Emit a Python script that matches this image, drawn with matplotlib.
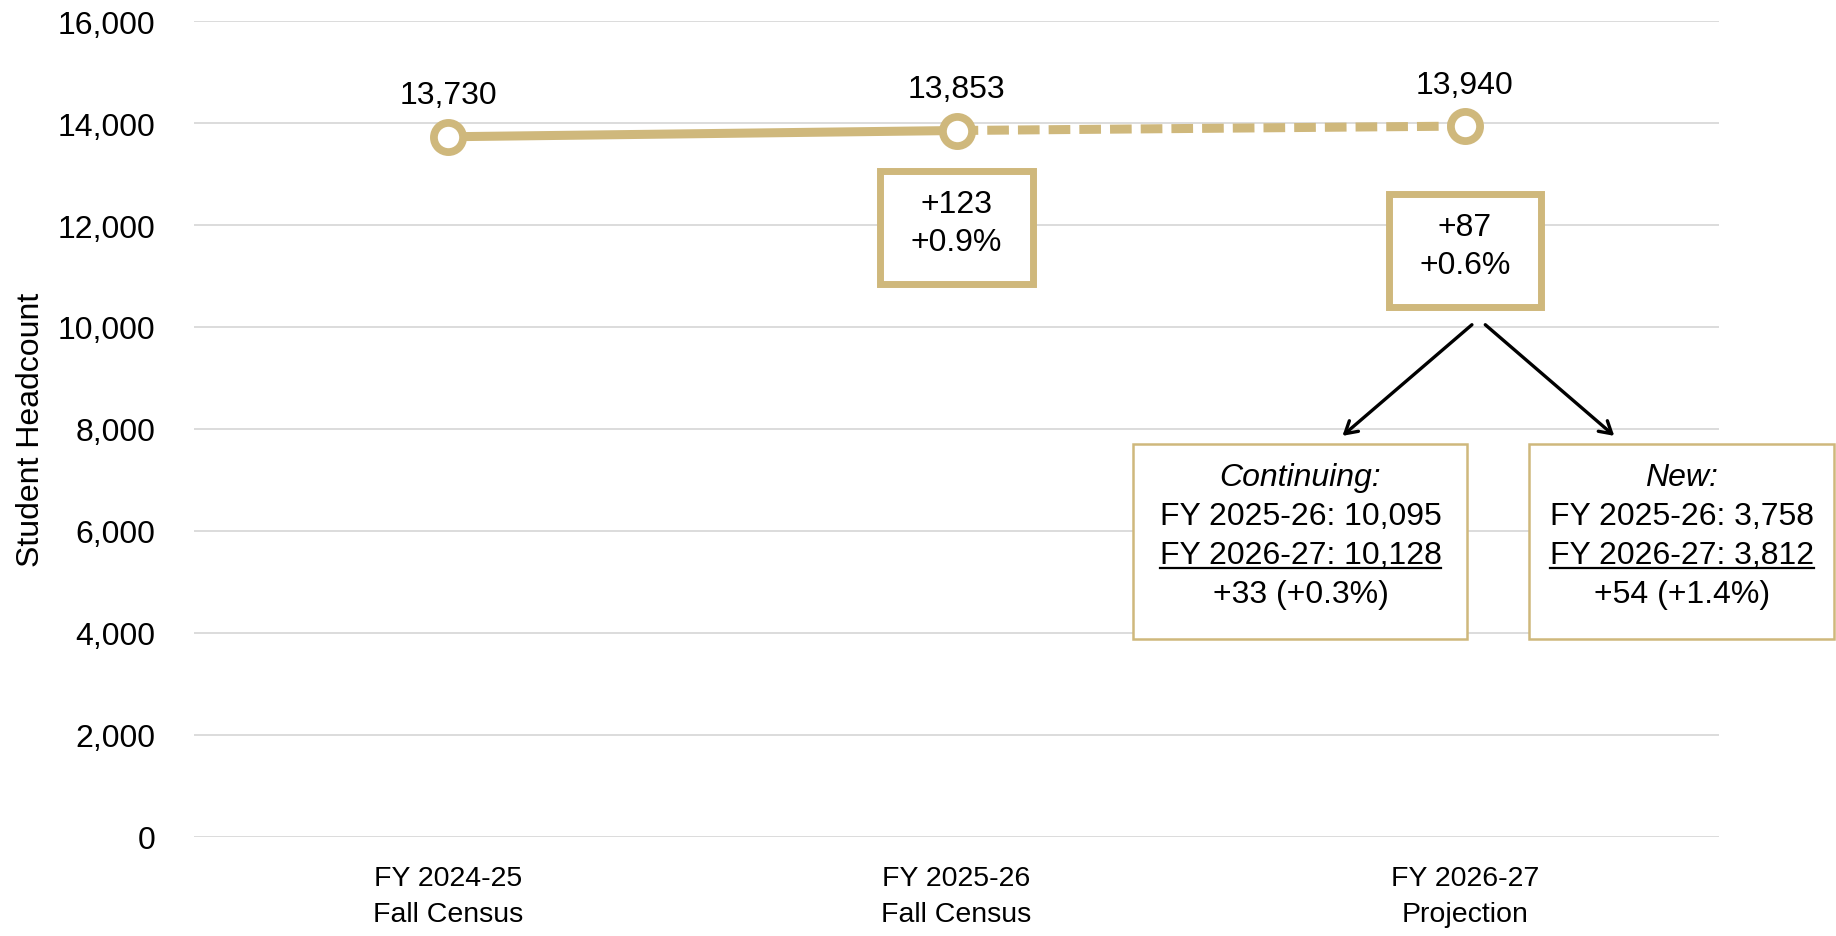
import matplotlib.pyplot as plt
from matplotlib.patches import Rectangle
from matplotlib.lines import Line2D

plt.rcParams['font.family'] = ['Liberation Sans', 'DejaVu Sans']

# data
periods = ['FY 2024-25\nFall Census', 'FY 2025-26\nFall Census', 'FY 2026-27\nProjection']
headcount = [13730, 13853, 13940]
change_labels = ['+123\n+0.9%', '+87\n+0.6%']
cont_lines = ['Continuing:', 'FY 2025-26: 10,095', 'FY 2026-27: 10,128', '+33 (+0.3%)']
new_lines = ['New:', 'FY 2025-26: 3,758', 'FY 2026-27: 3,812', '+54 (+1.4%)']

gold = '#CFB87C'
fs = 23

fig = plt.figure(figsize=(18.36, 9.37), dpi=100)
ax = fig.add_axes([0.1057, 0.1057, 0.8306, 0.8708])

x = list(range(len(periods)))
ax.plot(x[:2], headcount[:2], color=gold, lw=6.5, solid_capstyle='round', zorder=3)
ax.plot(x[1:], headcount[1:], color=gold, lw=6.5, ls=(0, (2.4, 1.0)), zorder=3)
ax.plot(x, headcount, ls='none', marker='o', ms=21, mfc='white', mec=gold, mew=5.6, zorder=4)

for xi, v in zip(x, headcount):
    ax.text(xi, v + 520, f'{v:,}', ha='center', va='bottom', fontsize=fs)

ax.set_xlim(-0.5, 2.5)
ax.set_ylim(0, 16000)
ax.set_yticks(range(0, 16001, 2000))
ax.set_yticklabels([f'{t:,}' for t in range(0, 16001, 2000)], fontsize=fs)
ax.set_xticks(x)
ax.set_xticklabels(periods, fontsize=20.5, linespacing=1.5)
ax.tick_params(axis='y', length=0, pad=28)
ax.tick_params(axis='x', length=0, pad=20)
ax.grid(axis='y', color='#d9d9d9', lw=1.3)
ax.set_axisbelow(True)
for s in ax.spines.values():
    s.set_visible(False)
ax.set_ylabel('Student Headcount', fontsize=fs, labelpad=8)

# change boxes
for xi, ycen, lab in [(1, 11970, change_labels[0]), (2, 11520, change_labels[1])]:
    ax.add_patch(Rectangle((xi - 0.15, ycen - 1130), 0.30, 2220, fill=True, fc='white',
                           ec=gold, lw=5, zorder=5, clip_on=False))
    ax.text(xi, ycen + 60, lab, ha='center', va='center', fontsize=fs, linespacing=1.35, zorder=6)

# arrows
ax.annotate('', xy=(1.755, 7830), xytext=(2.018, 10080),
            arrowprops=dict(arrowstyle='->,head_length=0.85,head_width=0.5', color='black', lw=2.4))
ax.annotate('', xy=(2.298, 7830), xytext=(2.036, 10080),
            arrowprops=dict(arrowstyle='->,head_length=0.85,head_width=0.5', color='black', lw=2.4))

# breakdown boxes
fig.canvas.draw()
renderer = fig.canvas.get_renderer()
for x0, x1, lines in [(1.348, 2.005, cont_lines), (2.127, 2.727, new_lines)]:
    ax.add_patch(Rectangle((x0, 3880), x1 - x0, 3835, fill=True, fc='white',
                           ec=gold, lw=1.8, zorder=5, clip_on=False))
    xc = (x0 + x1) / 2
    ys = [7050, 6300, 5520, 4760]
    for i, (yy, t) in enumerate(zip(ys, lines)):
        txt = ax.text(xc, yy, t, ha='center', va='center', fontsize=fs, zorder=6,
                      style='italic' if i == 0 else 'normal', clip_on=False)
        if i == 2:
            bb = txt.get_window_extent(renderer).transformed(ax.transData.inverted())
            ax.add_line(Line2D([bb.x0, bb.x1], [bb.y0 + 40, bb.y0 + 40], color='black',
                               lw=1.6, zorder=6, clip_on=False))

fig.savefig('out.png', dpi=100)
